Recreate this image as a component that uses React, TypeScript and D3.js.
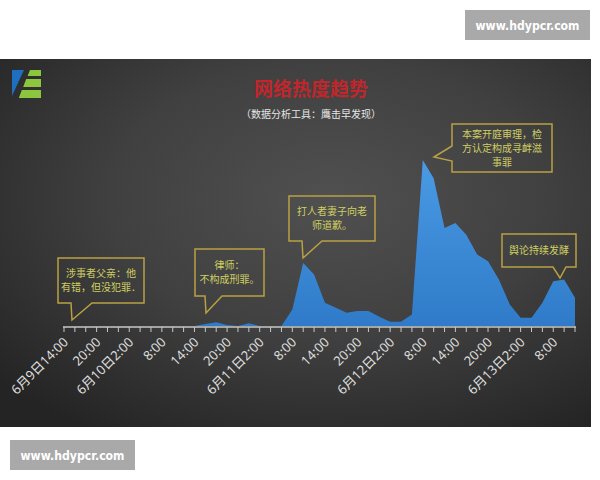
import React from "react";
import * as d3 from "d3";

// ---- data ----
const categories: string[] = [
  "6月9日14:00", "16:00", "18:00", "20:00", "22:00", "0:00",
  "6月10日2:00", "4:00", "6:00", "8:00", "10:00", "12:00",
  "14:00", "16:00", "18:00", "20:00", "22:00", "0:00",
  "6月11日2:00", "4:00", "6:00", "8:00", "10:00", "12:00",
  "14:00", "16:00", "18:00", "20:00", "22:00", "0:00",
  "6月12日2:00", "4:00", "6:00", "8:00", "10:00", "12:00",
  "14:00", "16:00", "18:00", "20:00", "22:00", "0:00",
  "6月13日2:00", "4:00", "6:00", "8:00", "10:00", "12:00",
];
const heatValues: number[] = [
  0, 0, 0, 0, 0, 0, 0, 0, 0, 0, 0, 0,
  0, 1.2, 2.2, 0.6, 0, 1.6, 0, 0, 0, 10, 38, 31,
  14, 11, 8, 9, 9, 5.5, 2.5, 2.5, 7, 100, 89, 59,
  62, 55, 43, 39, 28, 13, 5, 5, 14, 27, 28, 17,
];
const labelEvery = 3;

const title = "网络热度趋势";
const subtitle = "（数据分析工具：鹰击早发现）";
const watermark = "www.hdypcr.com";

type Callout = {
  lines: string[];
  box: [number, number, number, number]; // x0,y0,x1,y1
  side: "bottom" | "left";
  base: [number, number];
  tip: [number, number];
};
const callouts: Callout[] = [
  { lines: ["涉事者父亲：他", "有错，但没犯罪．"], box: [58, 258, 144, 303], side: "bottom", base: [71, 92], tip: [72, 320] },
  { lines: ["律师：", "不构成刑罪。"], box: [195, 249, 264, 296], side: "bottom", base: [205, 222], tip: [206, 313] },
  { lines: ["打人者妻子向老", "师道歉。"], box: [289, 196, 375, 241], side: "bottom", base: [302, 322], tip: [303, 258] },
  { lines: ["本案开庭审理，检", "方认定构成寻衅滋", "事罪"], box: [452, 124, 552, 172], side: "left", base: [146, 161], tip: [434, 157] },
  { lines: ["舆论持续发酵"], box: [502, 234, 576, 267], side: "bottom", base: [553, 566], tip: [560, 278] },
];

function calloutPath(c: Callout): string {
  const [x0, y0, x1, y1] = c.box;
  const p = d3.path();
  if (c.side === "bottom") {
    p.moveTo(x0, y0);
    p.lineTo(x1, y0);
    p.lineTo(x1, y1);
    p.lineTo(c.base[1], y1);
    p.lineTo(c.tip[0], c.tip[1]);
    p.lineTo(c.base[0], y1);
    p.lineTo(x0, y1);
    p.closePath();
  } else {
    p.moveTo(x0, y0);
    p.lineTo(x1, y0);
    p.lineTo(x1, y1);
    p.lineTo(x0, y1);
    p.lineTo(x0, c.base[1]);
    p.lineTo(c.tip[0], c.tip[1]);
    p.lineTo(x0, c.base[0]);
    p.closePath();
  }
  return p.toString();
}

export default function App() {
  const W = 600, H = 480;
  const x0 = 64, x1 = 575, yBase = 326, yTop = 160;
  const idx = categories.map((_, i) => i);
  const x = d3.scalePoint<number>().domain(idx).range([x0, x1]);
  const y = d3.scaleLinear().domain([0, 100]).range([yBase, yTop]);
  const area = d3
    .area<number>()
    .x((_, i) => x(i) as number)
    .y0(yBase)
    .y1((d) => y(d));
  const cjk = "'Noto Sans CJK SC', sans-serif";
  const latin = "'Open Sans', 'Noto Sans CJK SC', sans-serif";

  return (
    <svg width={W} height={H} style={{ position: "absolute", left: 0, top: 0, background: "#fff" }}>
      <defs>
        <radialGradient id="bg" cx="0.56" cy="0.38" r="0.75">
          <stop offset="0" stopColor="#505050" />
          <stop offset="0.5" stopColor="#404040" />
          <stop offset="1" stopColor="#242424" />
        </radialGradient>
        <linearGradient id="fillg" gradientUnits="userSpaceOnUse" x1="0" y1={yTop} x2="0" y2={yBase}>
          <stop offset="0" stopColor="#4a9ae4" />
          <stop offset="1" stopColor="#2f7bc9" />
        </linearGradient>
      </defs>
      <rect x={0} y={0} width={W} height={H} fill="#ffffff" />
      <rect x={0} y={59} width={591} height={368} fill="url(#bg)" />

      {/* logo */}
      <polygon points="12,70 24,70 12,96" fill="#1f6fc0" />
      <polygon points="30,70 41,70 41,76 27.6,76" fill="#8cc63f" />
      <polygon points="26.2,79 41,79 41,87 23.2,87" fill="#8cc63f" />
      <polygon points="21.8,90 41,90 41,98 18.8,98" fill="#8cc63f" />

      {/* title */}
      <text x={311} y={96} textAnchor="middle" fill="#c0262b" fontSize={19} fontWeight="bold" fontFamily={cjk}>
        {title}
      </text>
      <text x={311} y={118} textAnchor="middle" fill="#e6e6e6" fontSize={10} fontFamily={cjk}>
        {subtitle}
      </text>

      {/* area */}
      <path d={area(heatValues) || ""} fill="url(#fillg)" />

      {/* axis */}
      <line x1={x0 - 1} x2={x1 + 1} y1={yBase + 1} y2={yBase + 1} stroke="#c8c8c8" strokeWidth={1.5} />
      {idx.map((i) => (
        <line key={"t" + i} x1={x(i)} x2={x(i)} y1={yBase + 1} y2={yBase + 6} stroke="#c8c8c8" strokeWidth={1} />
      ))}
      {idx
        .filter((i) => i % labelEvery === 0)
        .map((i) => (
          <text
            key={"l" + i}
            transform={`translate(${(x(i) as number) + 5},${yBase + 17}) rotate(-45)`}
            textAnchor="end"
            fill="#e2e2e2"
            fontSize={13}
            fontFamily={latin}
          >
            {categories[i]}
          </text>
        ))}

      {/* callouts */}
      {callouts.map((c, k) => {
        const [bx0, by0, bx1, by1] = c.box;
        const cx = (bx0 + bx1) / 2;
        const lh = 14;
        const cy = (by0 + by1) / 2;
        const start = cy - ((c.lines.length - 1) * lh) / 2 + 3.5;
        return (
          <g key={"c" + k}>
            <path d={calloutPath(c)} fill="none" stroke="#b9a043" strokeWidth={1.5} />
            {c.lines.map((ln, j) => (
              <text key={j} x={cx} y={start + j * lh} textAnchor="middle" fill="#cfcf62" fontSize={10} fontFamily={cjk}>
                {ln}
              </text>
            ))}
          </g>
        );
      })}

      {/* watermarks */}
      <rect x={465} y={10} width={125} height={30} fill="#a9a9a9" />
      <text x={527.5} y={30} textAnchor="middle" fill="#ffffff" fontSize={13} fontWeight="bold" fontFamily="'DejaVu Sans', sans-serif" textLength={104} lengthAdjust="spacingAndGlyphs">
        {watermark}
      </text>
      <rect x={10} y={440} width={125} height={30} fill="#a9a9a9" />
      <text x={72.5} y={460} textAnchor="middle" fill="#ffffff" fontSize={13} fontWeight="bold" fontFamily="'DejaVu Sans', sans-serif" textLength={104} lengthAdjust="spacingAndGlyphs">
        {watermark}
      </text>
    </svg>
  );
}
